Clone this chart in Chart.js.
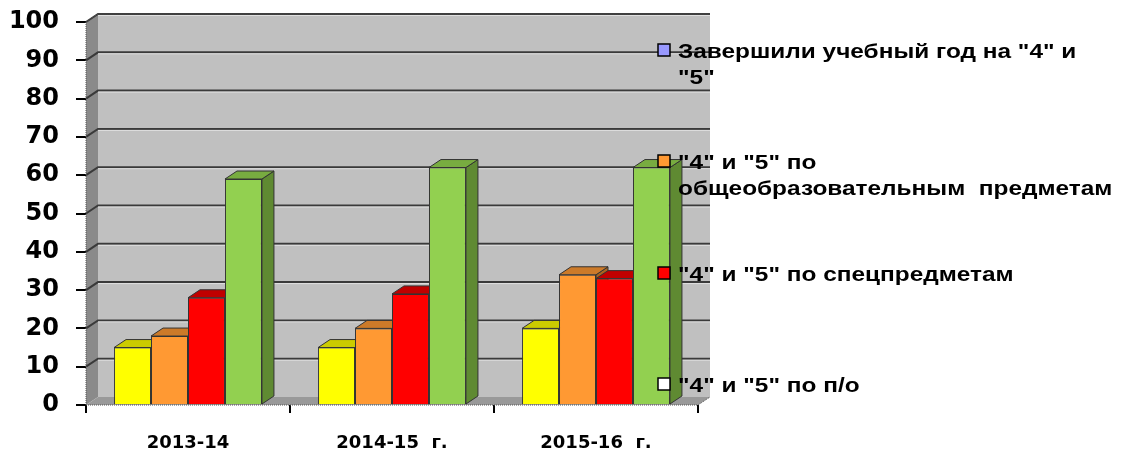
<!DOCTYPE html>
<html>
<head>
<meta charset="utf-8">
<script src="https://cdn.jsdelivr.net/npm/chart.js@4/dist/chart.umd.min.js"></script>
<style>
html, body { margin: 0; padding: 0; background: #fff; }
#wrap { width: 1125px; height: 452px; }
</style>
</head>
<body>
<div id="wrap"><canvas id="chart"></canvas></div>
<script>
var categories = ['2013-14', '2014-15  г.', '2015-16  г.'];
var seriesNames = [
    'Завершили учебный год на "4" и "5"',
    '"4" и "5" по общеобразовательным  предметам',
    '"4" и "5" по спецпредметам',
    '"4" и "5" по п/о'
];
// legend text as wrapped in the picture
var legendLines = [
    ['Завершили учебный год на "4" и', '"5"'],
    ['"4" и "5" по', 'общеобразовательным  предметам'],
    ['"4" и "5" по спецпредметам'],
    ['"4" и "5" по п/о']
];
var finishedYear = [15, 15, 20];
var generalSubjects = [18, 20, 34];
var specialSubjects = [28, 29, 33];
var practicalTraining = [59, 62, 62];
var yMax = 100;
var yStep = 10;

var frontColors = ['#ffff00', '#ff9933', '#ff0000', '#92d050'];
var topColors = ['#cccc00', '#cc7a29', '#c00000', '#78ac40'];
var sideColors = ['#aaaa00', '#a8641f', '#990000', '#5f8a32'];
var legendColors = ['#9999ff', '#ff9933', '#ff0000', '#ffffff'];

var DX = 12, DY = -8; // depth of the 3d box

var box3d = {
    id: 'box3d',
    beforeDatasetsDraw: (chart) => {
        var ctx = chart.ctx, a = chart.chartArea, ys = chart.scales.y;
        var top = ys.getPixelForValue(yMax), bottom = ys.getPixelForValue(0);
        ctx.save();
        // back wall
        ctx.fillStyle = '#c0c0c0';
        ctx.fillRect(a.left + DX, top + DY, a.right - a.left, bottom - top);
        // left wall
        ctx.fillStyle = '#8a8a8a';
        ctx.beginPath();
        ctx.moveTo(a.left, top); ctx.lineTo(a.left + DX, top + DY);
        ctx.lineTo(a.left + DX, bottom + DY); ctx.lineTo(a.left, bottom);
        ctx.closePath(); ctx.fill();
        // floor
        ctx.fillStyle = '#999999';
        ctx.beginPath();
        ctx.moveTo(a.left, bottom); ctx.lineTo(a.left + DX, bottom + DY);
        ctx.lineTo(a.right + DX, bottom + DY); ctx.lineTo(a.right, bottom);
        ctx.closePath(); ctx.fill();
        // gridlines
        for (var v = yStep; v <= yMax; v += yStep) {
            var y = ys.getPixelForValue(v);
            ctx.strokeStyle = '#3a3a3a';
            ctx.lineWidth = 2;
            ctx.beginPath();
            ctx.moveTo(a.left, y); ctx.lineTo(a.left + DX, y + DY);
            ctx.lineTo(a.right + DX, y + DY);
            ctx.stroke();
            ctx.strokeStyle = '#e0e0e0';
            ctx.lineWidth = 1;
            ctx.beginPath();
            ctx.moveTo(a.left + DX, y + DY + 1.5); ctx.lineTo(a.right + DX, y + DY + 1.5);
            ctx.stroke();
        }
        // wall edges (dotted)
        ctx.setLineDash([1, 1]);
        ctx.strokeStyle = '#555';
        ctx.lineWidth = 1;
        ctx.beginPath();
        ctx.moveTo(a.left, bottom); ctx.lineTo(a.left, top);
        ctx.lineTo(a.left + DX, top + DY); ctx.lineTo(a.right + DX, top + DY);
        ctx.moveTo(a.left, bottom); ctx.lineTo(a.right, bottom); ctx.lineTo(a.right + DX, bottom + DY);
        ctx.stroke();
        ctx.setLineDash([]);
        // top and side faces of bars
        ctx.strokeStyle = '#333';
        ctx.lineWidth = 1;
        chart.data.datasets.forEach((ds, i) => {
            var meta = chart.getDatasetMeta(i);
            meta.data.forEach((bar) => {
                var p = bar.getProps(['x', 'y', 'base', 'width'], true);
                var l = p.x - p.width / 2, r = p.x + p.width / 2;
                ctx.fillStyle = sideColors[i];
                ctx.beginPath();
                ctx.moveTo(r, p.y); ctx.lineTo(r + DX, p.y + DY);
                ctx.lineTo(r + DX, p.base + DY); ctx.lineTo(r, p.base);
                ctx.closePath(); ctx.fill(); ctx.stroke();
                ctx.fillStyle = topColors[i];
                ctx.beginPath();
                ctx.moveTo(l, p.y); ctx.lineTo(l + DX, p.y + DY);
                ctx.lineTo(r + DX, p.y + DY); ctx.lineTo(r, p.y);
                ctx.closePath(); ctx.fill(); ctx.stroke();
            });
        });
        ctx.restore();
    },
    afterDraw: (chart) => {
        var ctx = chart.ctx;
        var x0 = 658, tx = 678;
        var ys0 = [50, 161, 273, 384];
        ctx.save();
        ctx.font = 'bold 20px "Liberation Sans", Arial, sans-serif';
        ctx.textBaseline = 'middle';
        legendLines.forEach((lines, i) => {
            var y = ys0[i];
            ctx.fillStyle = legendColors[i];
            ctx.fillRect(x0, y - 6, 12, 12);
            ctx.strokeStyle = '#000';
            ctx.lineWidth = 1.5;
            ctx.strokeRect(x0, y - 6, 12, 12);
            ctx.fillStyle = '#000';
            lines.forEach((t, k) => {
                ctx.save();
                ctx.translate(tx, y + 2 + k * 26);
                ctx.scale(1.22, 1);
                ctx.fillText(t, 0, 0);
                ctx.restore();
            });
        });
        ctx.restore();
    }
};

var values = [finishedYear, generalSubjects, specialSubjects, practicalTraining];
var datasets = values.map((d, i) => ({
    label: seriesNames[i],
    data: d,
    backgroundColor: frontColors[i],
    borderColor: '#333',
    borderWidth: 1,
    categoryPercentage: 0.725,
    barPercentage: 1
}));

var axisFont = '"DejaVu Sans", Verdana, sans-serif';

new Chart(document.getElementById('chart').getContext('2d'), {
    type: 'bar',
    data: { labels: categories, datasets: datasets },
    plugins: [box3d],
    options: {
        responsive: true,
        maintainAspectRatio: false,
        animation: false,
        layout: { padding: { left: 0, right: 427, top: 22, bottom: 0 } },
        plugins: { legend: { display: false }, tooltip: { enabled: false } },
        scales: {
            x: {
                afterFit: (s) => { s.height = 47; s.paddingLeft = 0; s.paddingRight = 0; },
                grid: { offset: true, drawOnChartArea: false, tickLength: 8, color: '#000', lineWidth: 2 },
                border: { display: false },
                ticks: { color: '#000', padding: 20, font: { family: axisFont, size: 18, weight: 'bold' } }
            },
            y: {
                min: 0, max: yMax,
                afterFit: (s) => { s.width = 86; s.paddingTop = 0; s.paddingBottom = 0; },
                grid: { drawOnChartArea: false, tickLength: 10, color: '#000', lineWidth: 2 },
                border: { display: false },
                ticks: { stepSize: yStep, color: '#000', padding: 17, font: { family: axisFont, size: 24, weight: 'bold' } }
            }
        }
    }
});
</script>
</body>
</html>
